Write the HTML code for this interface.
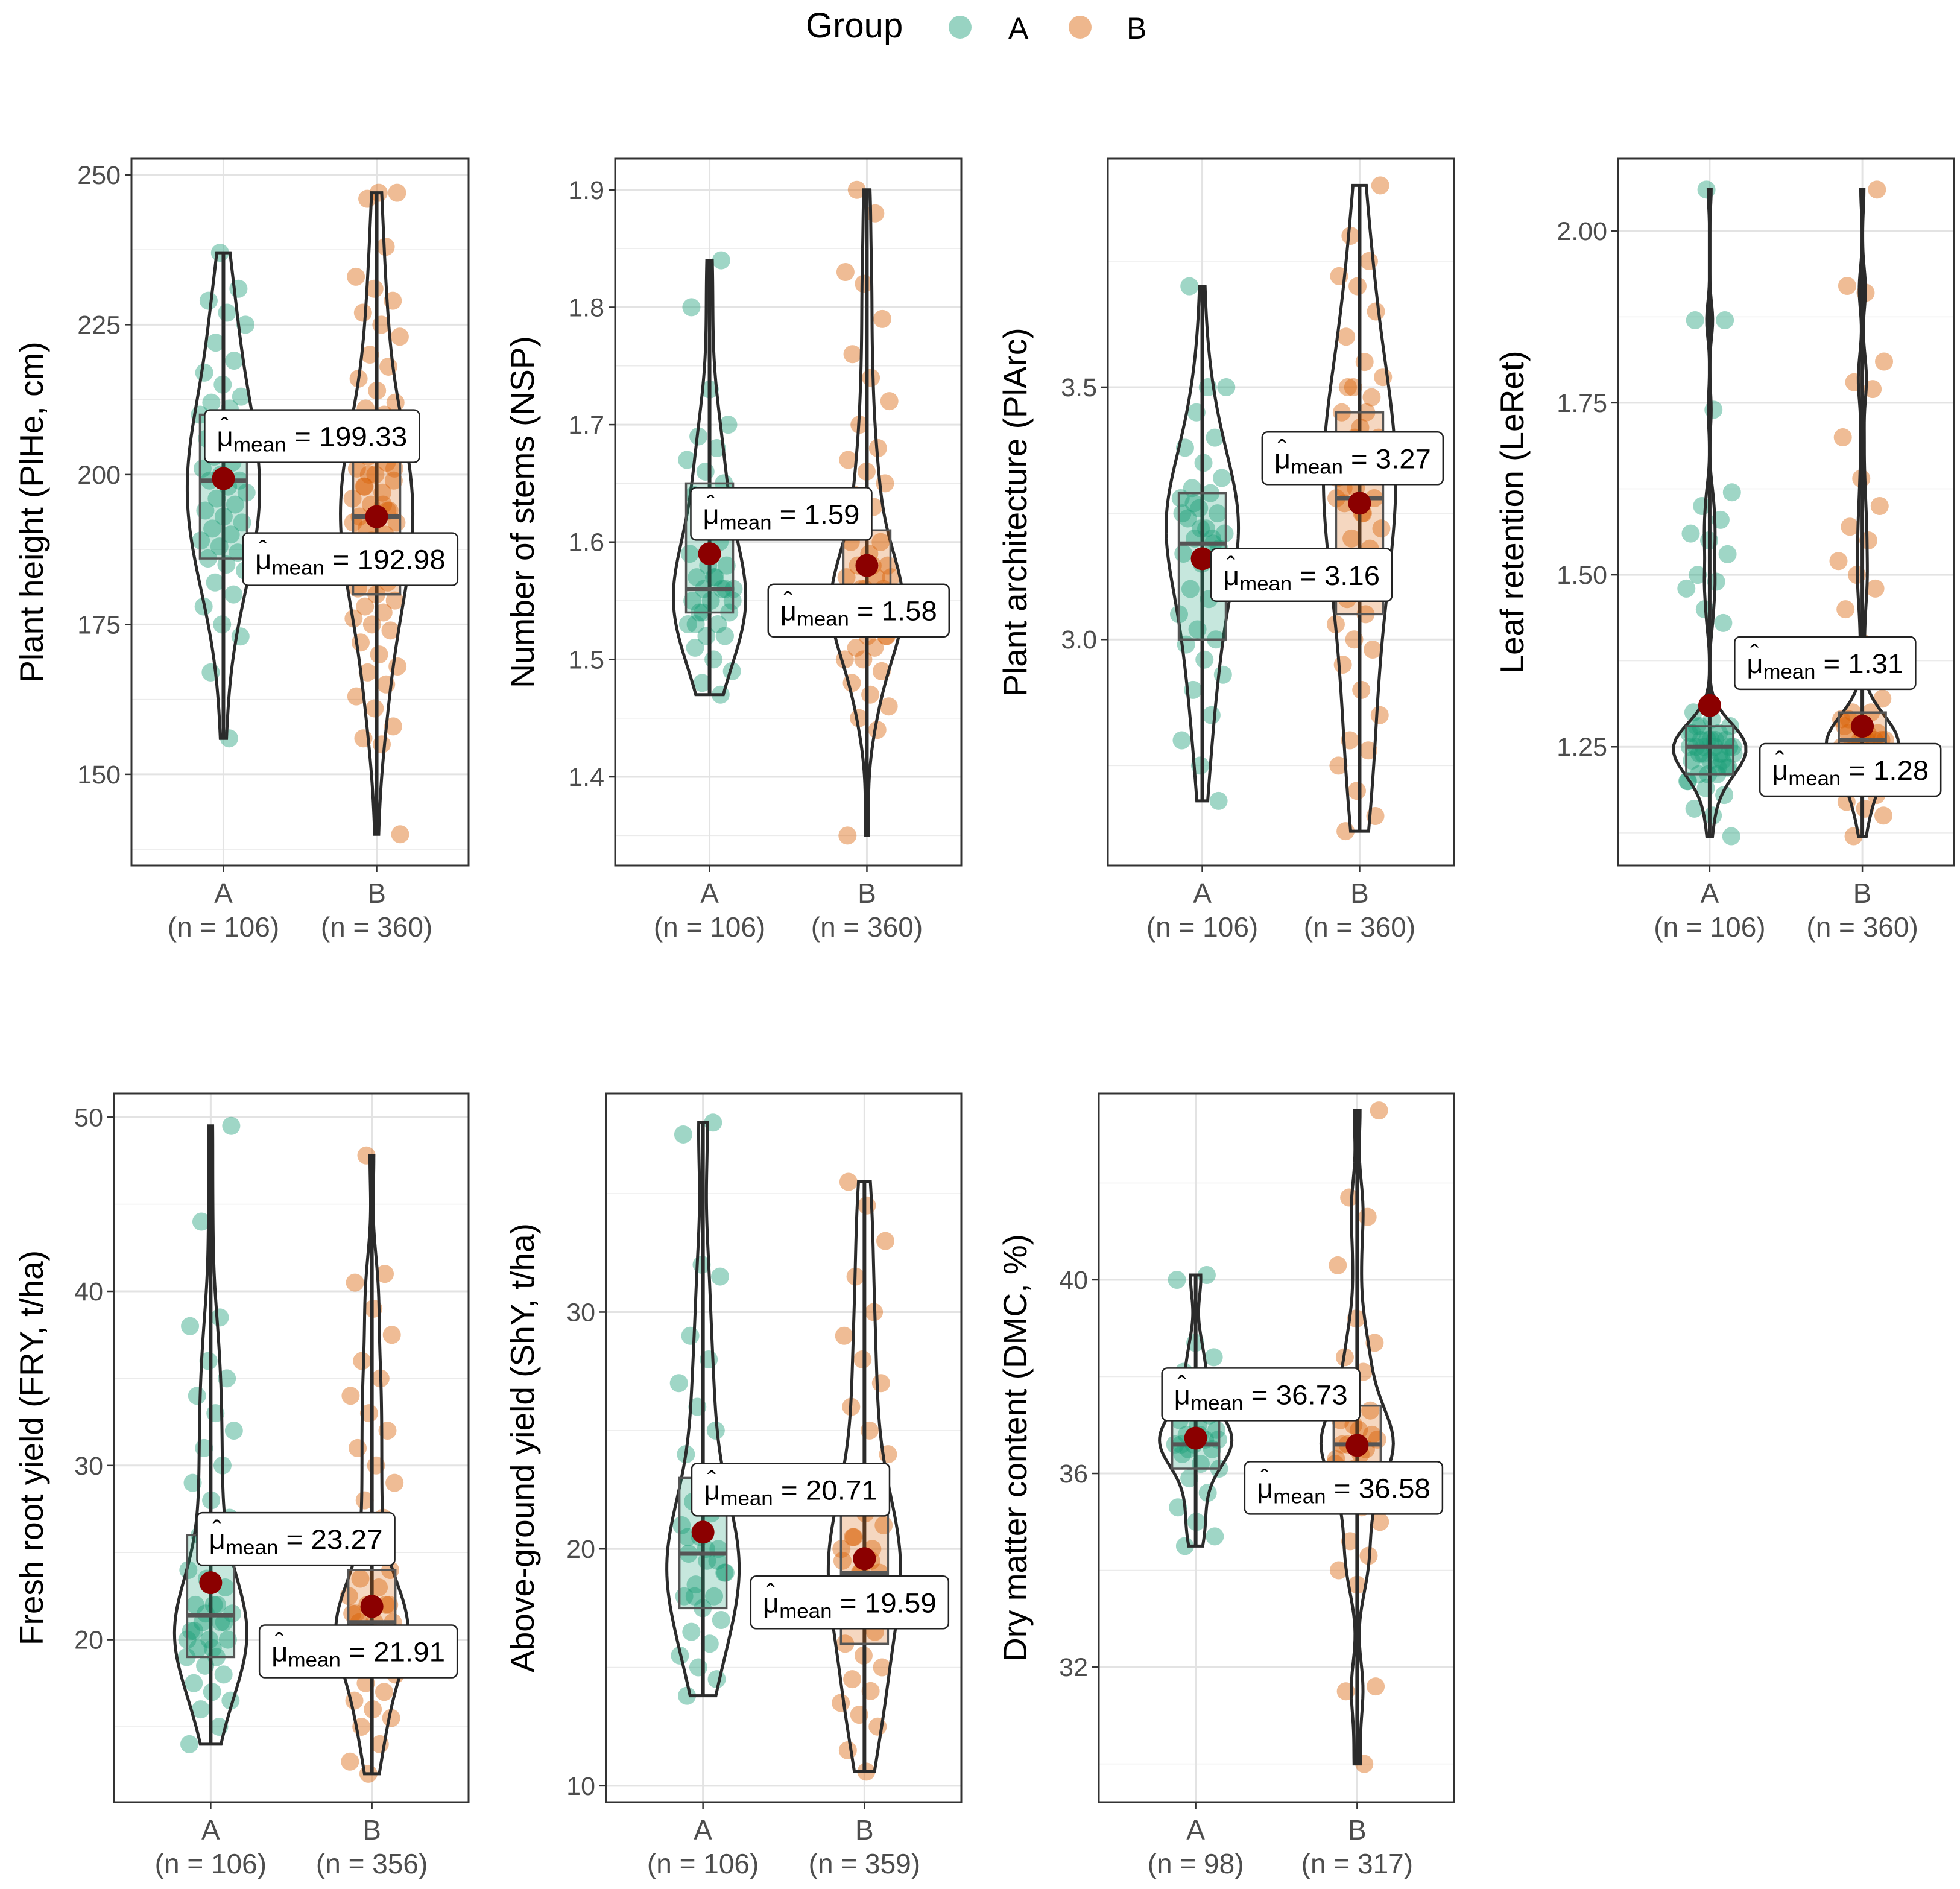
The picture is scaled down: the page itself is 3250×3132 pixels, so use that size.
<!DOCTYPE html>
<html><head><meta charset="utf-8">
<style>
html,body{margin:0;padding:0;background:#fff;}
svg{display:block;font-family:"Liberation Sans","DejaVu Sans",sans-serif;}
</style></head>
<body>
<svg id="chart" width="3250" height="3132" viewBox="0 0 3250 3132" xmlns="http://www.w3.org/2000/svg">
  <g>
    <text x="1336" y="62" font-size="58" fill="#000">Group</text>
    <circle cx="1592" cy="45" r="19" fill="#1b9e77" fill-opacity="0.45"/>
    <text x="1672" y="64" font-size="50" fill="#000">A</text>
    <circle cx="1791" cy="45" r="19" fill="#d95f02" fill-opacity="0.45"/>
    <text x="1868" y="64" font-size="50" fill="#000">B</text>
  </g>
</svg>
<script>
// ---------- data ----------
const titles = ["Plant height (PlHe, cm)","Number of stems (NSP)","Plant architecture (PlArc)","Leaf retention (LeRet)","Fresh root yield (FRY, t/ha)","Above-ground yield (ShY, t/ha)","Dry matter content (DMC, %)"];
const categories = ["A","B"];
const nLabels = [["(n = 106)","(n = 360)"],["(n = 106)","(n = 360)"],["(n = 106)","(n = 360)"],["(n = 106)","(n = 360)"],["(n = 106)","(n = 356)"],["(n = 106)","(n = 359)"],["(n = 98)","(n = 317)"]];
const means = [[199.33,192.98],[1.59,1.58],[3.16,3.27],[1.31,1.28],[23.27,21.91],[20.71,19.59],[36.73,36.58]];
const meanText = [["199.33","192.98"],["1.59","1.58"],["3.16","3.27"],["1.31","1.28"],["23.27","21.91"],["20.71","19.59"],["36.73","36.58"]];
const boxA = [[186,199,210],[1.54,1.56,1.65],[3.0,3.19,3.29],[1.21,1.25,1.28],[19,21.4,26],[17.5,19.8,23],[36.1,36.6,37.2]];
const boxB = [[180,193,207],[1.52,1.56,1.61],[3.05,3.28,3.45],[1.22,1.26,1.30],[18.5,21,24],[16,19,22],[35.9,36.6,37.4]];
const tickLabels = [["150","175","200","225","250"],["1.4","1.5","1.6","1.7","1.8","1.9"],["3.0","3.5"],["1.25","1.50","1.75","2.00"],["20","30","40","50"],["10","20","30"],["32","36","40"]];
const minorTicks = [[137.5,162.5,187.5,212.5,237.5],[1.35,1.45,1.55,1.65,1.75,1.85],[2.75,3.25,3.75],[1.125,1.375,1.625,1.875],[15,25,35,45],[15,25,35],[30,34,38,42]];
const domains = [[134.8,252.7],[1.3245,1.9266],[2.552,3.953],[1.0775,2.105],[10.67,51.36],[9.31,39.23],[29.21,43.85]];

const plheA=[156,167,173,175,178,180,182,184,185,186,187,188,189,190,191,192,193,194,195,196,197,198,199,199,200,201,202,203,204,205,206,207,208,210,211,212,213,215,217,219,222,225,227,229,231,237];
const plheB=[140,155,156,158,161,163,165,167,168,170,172,174,175,176,177,178,179,180,181,182,183,184,185,186,187,188,189,190,191,192,193,193,194,195,196,197,198,199,200,201,202,203,204,205,206,207,208,209,210,211,212,214,216,218,220,223,225,227,229,231,233,238,246,247,247,183,186,189,192,195,198,201,204,188,194,200];
const nspA=[1.47,1.48,1.49,1.50,1.51,1.52,1.52,1.53,1.53,1.54,1.54,1.55,1.55,1.56,1.56,1.56,1.57,1.57,1.58,1.58,1.59,1.60,1.61,1.62,1.63,1.64,1.65,1.66,1.67,1.68,1.69,1.70,1.73,1.80,1.84,1.54,1.55,1.57,1.53,1.56];
const nspB=[1.35,1.44,1.45,1.46,1.47,1.48,1.49,1.50,1.50,1.51,1.51,1.52,1.52,1.53,1.53,1.54,1.54,1.55,1.55,1.56,1.56,1.57,1.57,1.58,1.58,1.59,1.60,1.60,1.61,1.62,1.63,1.64,1.65,1.66,1.67,1.68,1.70,1.72,1.74,1.76,1.79,1.82,1.83,1.88,1.90,1.52,1.53,1.54,1.55,1.56,1.57,1.58,1.55,1.54];
const plarcA=[2.68,2.75,2.8,2.85,2.9,2.93,2.96,2.99,3.0,3.02,3.05,3.08,3.1,3.12,3.15,3.17,3.19,3.2,3.21,3.22,3.24,3.25,3.26,3.28,3.29,3.3,3.32,3.35,3.38,3.4,3.45,3.5,3.5,3.7,3.18,3.22,3.25,3.2,3.27];
const plarcB=[2.62,2.65,2.7,2.75,2.78,2.8,2.85,2.9,2.95,2.98,3.0,3.03,3.05,3.08,3.1,3.13,3.15,3.18,3.2,3.22,3.25,3.27,3.28,3.3,3.32,3.35,3.38,3.4,3.42,3.45,3.48,3.5,3.52,3.55,3.6,3.65,3.7,3.72,3.75,3.8,3.9,3.25,3.3,3.35,3.4,3.28,3.45,3.5];
const leretA=[1.12,1.15,1.16,1.18,1.19,1.2,1.21,1.21,1.22,1.23,1.23,1.24,1.24,1.25,1.25,1.25,1.26,1.26,1.27,1.27,1.28,1.28,1.29,1.3,1.43,1.45,1.48,1.49,1.5,1.53,1.55,1.56,1.58,1.6,1.62,1.74,1.87,1.87,2.06,1.2,1.22,1.24,1.25,1.26,1.27,1.23,1.25,1.24,1.26,1.28,1.22,1.21,1.25,1.24,1.26];
const leretB=[1.12,1.15,1.16,1.17,1.18,1.19,1.2,1.21,1.22,1.22,1.23,1.24,1.25,1.25,1.26,1.26,1.27,1.27,1.28,1.29,1.3,1.3,1.32,1.4,1.45,1.48,1.5,1.52,1.55,1.57,1.6,1.64,1.7,1.77,1.78,1.81,1.91,1.92,2.06,1.21,1.23,1.24,1.25,1.26,1.27,1.28,1.26,1.25,1.24,1.27,1.29,1.22,1.26,1.25];
const fryA=[14,15,16,16.5,17,17.5,18,18.5,19,19,19.5,20,20,20.5,21,21,21.5,22,22,23,23.5,24,25,26,27,28,29,30,31,32,33,34,35,36,38,38.5,44,49.5,19.5,20.5,21,21.5,20,22];
const fryB=[12.3,13,14,15,15.5,16,16.5,17,17.5,18,18.5,19,19,19.5,20,20,20.5,21,21,21.5,22,22,22.5,23,23.5,24,25,26,27,28,29,30,31,32,33,34,35,36,37.5,39,40.5,41,47.8,19,20,21,22,20.5,21.5];
const shyA=[13.8,14.5,15,15.5,16,16.5,17,17.5,18,18,18.5,19,19.5,19.8,20,20.5,21,21.5,22,22.5,23,24,25,26,27,28,29,31.5,32,37.5,38,18,19,20,20.5,19.5];
const shyB=[10.6,11.5,12.5,13,13.5,14,14.5,15,15.5,16,16.5,17,17.5,18,18.5,19,19,19.5,20,20.5,21,21.5,22,22.5,23,24,25,26,27,28,29,30,31.5,33,34.5,35.5,18,19,20,19.5,20.5];
const dmcA=[34.5,34.7,35,35.3,35.6,35.9,36.1,36.2,36.4,36.5,36.6,36.6,36.7,36.8,36.9,37,37.1,37.2,37.4,37.6,37.8,38.1,38.4,38.7,40,40.1,36.5,36.7,36.8,36.6];
const dmcB=[30,31.5,31.6,33.7,34,34.3,34.6,35,35.3,35.6,35.9,36.1,36.3,36.5,36.6,36.7,36.9,37.1,37.3,37.5,37.8,38.1,38.4,38.7,39.2,40.3,41.3,41.7,43.5,36.4,36.6,36.8,37,36.2];
const seriesA=[plheA,nspA,plarcA,leretA,fryA,shyA,dmcA];
const seriesB=[plheB,nspB,plarcB,leretB,fryB,shyB,dmcB];

// ---------- layout (pixels) ----------
const S=2.072;
const frames=[[218,263,777,1435],[1020,263,1594,1435],[1837,263,2411,1435],[2683,263,3240,1435],[189,1813,777,2988],[1005,1813,1594,2988],[1822,1813,2411,2988]];
const titleX=[52,866,1683,2507,52,866,1683];
const labelOff=[[[-15,-55],[-107,13]],[[-15,-53],[-79,15]],[[7,-8],[-78,-57]],[[20,-55],[-82,14]],[[-11,-56],[-90,15]],[[-9,-55],[-91,14]],[[-27,-56],[-90,13]]];
const colors=["#1b9e77","#d95f02"];
const NS="http://www.w3.org/2000/svg";
const svg=document.getElementById('chart');
function mk(tag,attrs,parent){const e=document.createElementNS(NS,tag);for(const k in attrs)e.setAttribute(k,attrs[k]);(parent||svg).appendChild(e);return e;}

for(let p=0;p<7;p++){
  const [x0,y0,x1,y1]=frames[p];
  const [dmin,dmax]=domains[p];
  const yS=v=>y1-(v-dmin)/(dmax-dmin)*(y1-y0);
  const xS=i=>x0+(x1-x0)*(0.6+i)/2.2;
  const g=mk('g',{});
  
  
  minorTicks[p].forEach(v=>{const l=mk('line',{x1:x0,x2:x1,y1:yS(v),y2:yS(v),stroke:'#ebebeb','stroke-width':1.5},g);
    });
  tickLabels[p].forEach(t=>{const v=parseFloat(t);const y=yS(v);
    const l=mk('line',{x1:x0,x2:x1,y1:y,y2:y,stroke:'#e3e3e3','stroke-width':3},g);
    
    const tk=mk('line',{x1:x0-11,x2:x0,y1:y,y2:y,stroke:'#333','stroke-width':2.5},g);
    
    const tx=mk('text',{x:x0-18,y:y+15,'text-anchor':'end','font-size':43,fill:'#4d4d4d'},g);tx.textContent=t;
    });
  categories.forEach((c,i)=>{const x=xS(i);
    const l=mk('line',{x1:x,x2:x,y1:y0,y2:y1,stroke:'#e3e3e3','stroke-width':3},g);
    
    const tk=mk('line',{x1:x,x2:x,y1:y1,y2:y1+11,stroke:'#333','stroke-width':2.5},g);
    
    const t1=mk('text',{x:x,y:y1+62,'text-anchor':'middle','font-size':46,fill:'#4d4d4d'},g);t1.textContent=c;
    
    const t2=mk('text',{x:x,y:y1+118,'text-anchor':'middle','font-size':46,fill:'#4d4d4d'},g);t2.textContent=nLabels[p][i];
    });
  const yc=(y0+y1)/2;
  const tt=mk('text',{x:titleX[p],y:yc,'text-anchor':'middle','font-size':55,fill:'#000',transform:`rotate(-90 ${titleX[p]} ${yc})`,'dominant-baseline':'central'},g);
  tt.textContent=titles[p];
  

  const labelLayer=[];
  [seriesA[p],seriesB[p]].forEach((vals,i)=>{
    const cx=xS(i);const col=colors[i];
    vals.forEach((v,k)=>{const f=((k+1)*0.6180339+i*0.37+p*0.11)%1;const j=(f*2-1)*40;
      const c=mk('circle',{cx:cx+j,cy:yS(v),r:15,fill:col,'fill-opacity':0.42},g);
      });
    const s=[...vals].sort((a,b)=>a-b);const n=s.length;
    const mu=s.reduce((a,b)=>a+b,0)/n;const sd=Math.sqrt(s.reduce((a,b)=>a+(b-mu)**2,0)/(n-1));
    const bq=(i===0?boxA:boxB)[p];const iqr=bq[2]-bq[0];
    const bw=1.1*Math.min(sd,iqr/1.34)*Math.pow(n,-0.2);
    const lo=s[0],hi=s[n-1];const K=100;const dens=[];
    for(let k=0;k<=K;k++){const v=lo+(hi-lo)*k/K;let d=0;s.forEach(u=>{d+=Math.exp(-0.5*((v-u)/bw)**2);});dens.push([v,d]);}
    const mx=Math.max(...dens.map(d=>d[1]));
    const right=dens.map(([v,d])=>`${cx+d/mx*60},${yS(v)}`);const left=dens.slice().reverse().map(([v,d])=>`${cx-d/mx*60},${yS(v)}`);
    const vio=mk('path',{d:'M'+right.join('L')+'L'+left.join('L')+'Z',fill:'none',stroke:'#2b2b2b','stroke-width':5},g);
    
    const wk=mk('line',{x1:cx,x2:cx,y1:yS(lo),y2:yS(hi),stroke:'#2b2b2b','stroke-width':6},g);
    
    const bx=mk('rect',{x:cx-39,y:yS(bq[2]),width:78,height:yS(bq[0])-yS(bq[2]),fill:col,'fill-opacity':0.25,stroke:'#555','stroke-width':3.5},g);
    
    const md=mk('line',{x1:cx-39,x2:cx+39,y1:yS(bq[1]),y2:yS(bq[1]),stroke:'#555','stroke-width':7},g);
    
    const my=yS(means[p][i]);
    const dot=mk('circle',{cx:cx,cy:my,r:19,fill:'#8b0000'},g);
    
    labelLayer.push([cx,my,i]);
  });
  labelLayer.forEach(([cx,my,i])=>{
    const lx=cx+labelOff[p][i][0]*S,ly=my+labelOff[p][i][1]*S;
    const lg=mk('g',{},g);
    
    const txt=meanText[p][i];
    const w=188+28*txt.length;
    mk('rect',{x:lx,y:ly,width:w,height:87,rx:9,fill:'#fff',stroke:'#222','stroke-width':2.5},lg);
    const tx=mk('text',{x:lx+20,y:ly+60,'font-size':45,fill:'#000',textLength:w-40,lengthAdjust:'spacingAndGlyphs'},lg);
    const t1=mk('tspan',{},tx);t1.textContent='μ';
    const t2=mk('tspan',{'font-size':33,dy:9},tx);t2.textContent='mean';
    const t3=mk('tspan',{dy:-9},tx);t3.textContent=' = '+txt;
    const hat=mk('text',{x:lx+33,y:ly+42,'font-size':42,fill:'#000','text-anchor':'middle'},lg);hat.textContent='ˆ';
    
  });
  const fr=mk('rect',{x:x0,y:y0,width:x1-x0,height:y1-y0,fill:'none',stroke:'#333','stroke-width':3},g);
  
}
</script>
</body></html>
